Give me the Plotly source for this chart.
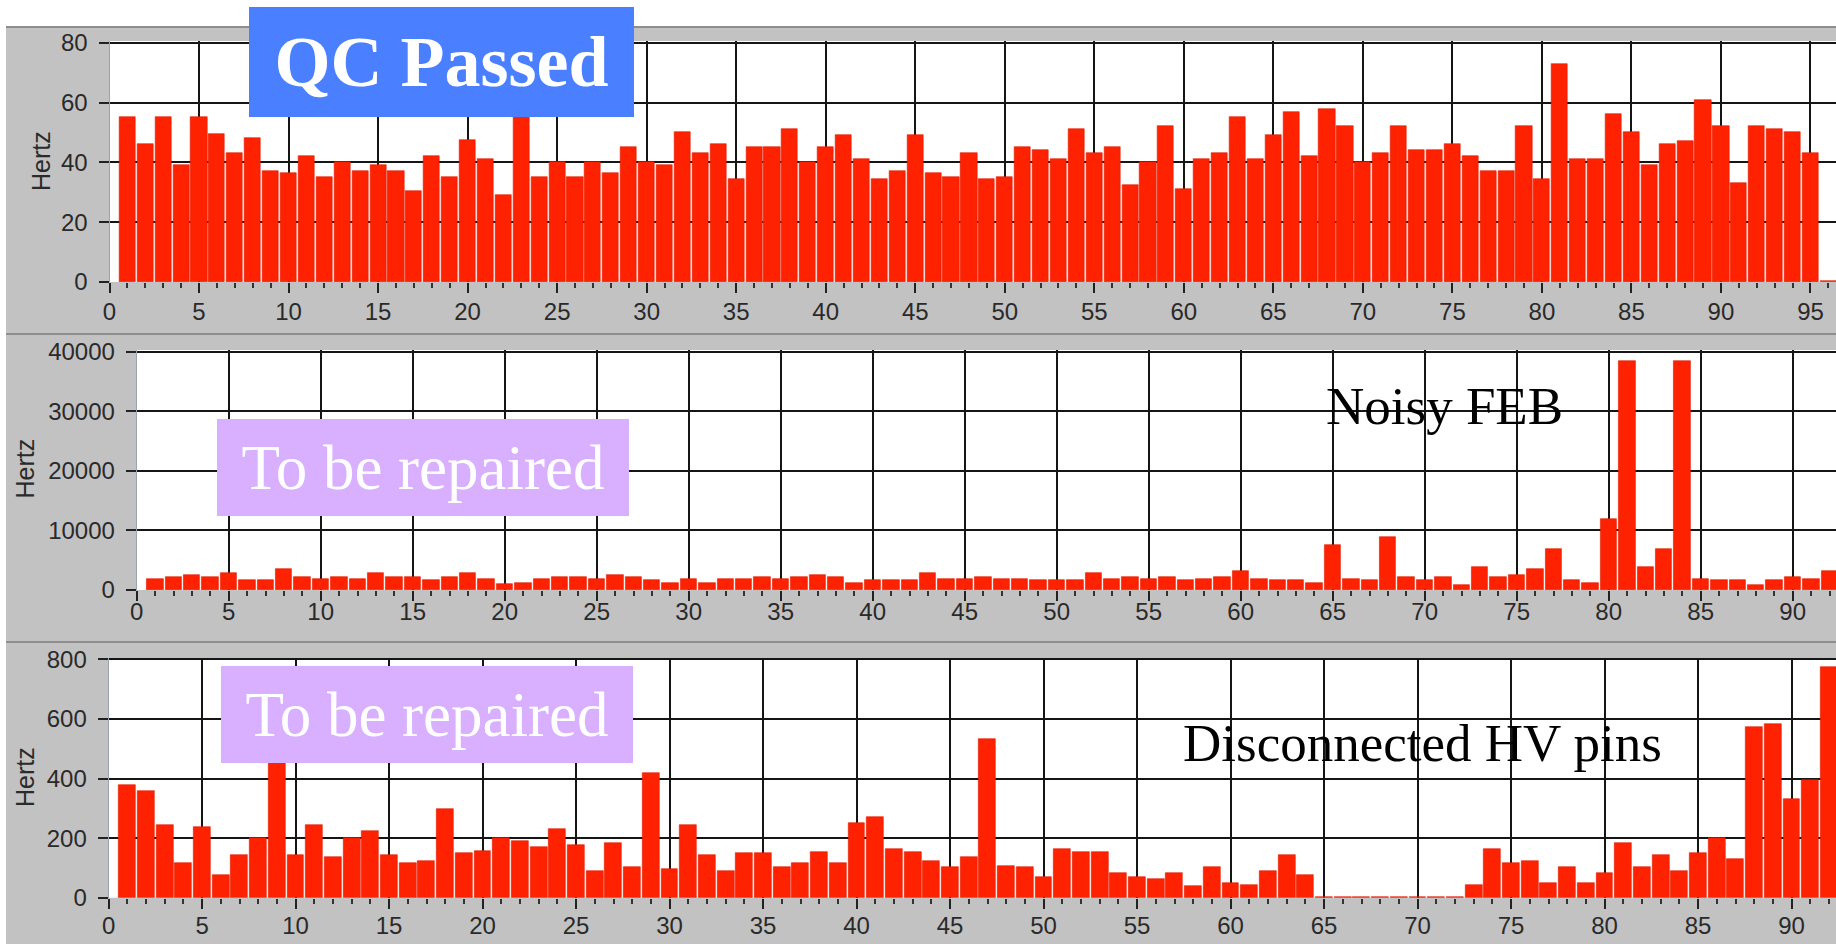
import plotly.graph_objects as go

# ---------------- data ----------------
channels_top = list(range(1, 97))
hertz_top = [55, 46, 55, 39, 55, 49.5, 43, 48, 37, 36.5,
             42, 35, 40, 37, 39, 37, 30.5, 42, 35, 47.5,
             41, 29, 55.5, 35, 40, 35, 40, 36.5, 45, 40,
             39, 50, 43, 46, 34.5, 45, 45, 51, 40, 45,
             49, 41, 34.5, 37, 49, 36.5, 35, 43, 34.5, 35,
             45, 44, 41, 51, 43, 45, 32.5, 40, 52, 31,
             41, 43, 55, 41, 49, 57, 42, 58, 52, 40,
             43, 52, 44, 44, 46, 42, 37, 37, 52, 34.5,
             73, 41, 41, 56, 50, 39, 46, 47, 61, 52,
             33, 52, 51, 50, 43, 0.5]

channels_mid = list(range(1, 93))
hertz_mid = [1900, 2200, 2500, 2200, 2900, 1600, 1600, 3600, 2200, 1900,
             2200, 1900, 2900, 2200, 2200, 1600, 2200, 2900, 1900, 950,
             1200, 1900, 2200, 2200, 1900, 2600, 2200, 1600, 1200, 1900,
             1200, 1900, 1900, 2200, 1900, 2200, 2600, 2200, 1200, 1600,
             1600, 1600, 2900, 1900, 1900, 2200, 1900, 1900, 1600, 1600,
             1600, 2900, 1900, 2200, 1900, 2200, 1600, 1900, 2200, 3200,
             1900, 1600, 1600, 1200, 7500, 1900, 1600, 8900, 2200, 1600,
             2200, 900, 3900, 2200, 2600, 3600, 6900, 1600, 1200, 12000,
             38400, 3900, 6900, 38400, 1900, 1600, 1600, 900, 1600, 2200,
             1900, 3200]

channels_bot = list(range(1, 93))
hertz_bot = [378, 358, 244, 115, 236, 76, 142, 201, 470, 142,
             244, 135, 201, 224, 142, 115, 123, 296, 149, 157,
             201, 190, 169, 229, 177, 89, 182, 102, 417, 95,
             243, 142, 89, 149, 149, 102, 115, 155, 115, 250,
             270, 162, 155, 122, 102, 135, 531, 108, 102, 68,
             162, 155, 155, 82, 68, 62, 82, 40, 102, 48,
             41, 88, 142, 75, 3, 3, 3, 3, 3, 3,
             3, 3, 41, 162, 115, 122, 48, 102, 48, 82,
             182, 102, 142, 88, 149, 201, 129, 572, 583, 330,
             395, 773]

ytick_top = [0, 20, 40, 60, 80]
ytick_mid = [0, 10000, 20000, 30000, 40000]
ytick_bot = [0, 200, 400, 600, 800]

# ---------------- layout geometry (pixels) ----------------
W, H = 1836, 944

def fx(px):
    return px / W

def fy(py):
    return 1 - py / H

panels = [
    dict(x0=109.5, ppu=17.905, top=41, bottom=282, ttop=42.7, tval=80, xstand=-2,
         gtop=26, gbot=333, ticks=ytick_top, x=channels_top, y=hertz_top, hertz=(41, 161)),
    dict(x0=136.7, ppu=18.4, top=350, bottom=590, ttop=351.7, tval=40000, xstand=-10,
         gtop=333, gbot=641, ticks=ytick_mid, x=channels_mid, y=hertz_mid, hertz=(24.5, 469)),
    dict(x0=108.6, ppu=18.7, top=658, bottom=897.7, ttop=659.3, tval=800, xstand=-4,
         gtop=641, gbot=944, ticks=ytick_bot, x=channels_bot, y=hertz_bot, hertz=(24.5, 777.5)),
]

BAR = "#FF2200"
GRID = "#151515"
TICKFONT = dict(family="Liberation Sans, Arial, sans-serif", size=24, color="#2a2a2a")

fig = go.Figure()
shapes = []
annotations = []
layout = dict(
    width=W, height=H, autosize=False,
    margin=dict(l=0, r=0, t=0, b=0, pad=0, autoexpand=False),
    paper_bgcolor="white", plot_bgcolor="rgba(0,0,0,0)",
    showlegend=False, bargap=0,
)

for i, p in enumerate(panels, start=1):
    xs = "x" if i == 1 else f"x{i}"
    ys = "y" if i == 1 else f"y{i}"
    xmax = (W - p["x0"]) / p["ppu"]
    ymax = p["tval"] * (p["bottom"] - p["top"]) / (p["bottom"] - p["ttop"])

    fig.add_trace(go.Bar(
        x=p["x"], y=p["y"], xaxis=xs, yaxis=ys, width=0.9,
        marker=dict(color=BAR, line=dict(color="#E01A00", width=0.6)),
        hoverinfo="x+y",
    ))

    shapes.append(dict(type="rect", xref="paper", yref="paper", layer="below",
                       x0=fx(6), x1=1, y0=fy(p["gbot"]), y1=fy(p["gtop"]),
                       fillcolor="#C2C2C2", line=dict(width=0)))
    shapes.append(dict(type="rect", xref="paper", yref="paper", layer="below",
                       x0=fx(6), x1=1, y0=fy(p["gtop"] + 2), y1=fy(p["gtop"]),
                       fillcolor="#8E8E8E", line=dict(width=0)))
    shapes.append(dict(type="rect", xref="paper", yref="paper", layer="below",
                       x0=fx(p["x0"]), x1=1, y0=fy(p["bottom"]), y1=fy(p["top"]),
                       fillcolor="white", line=dict(width=0)))

    xa = dict(
        domain=[fx(p["x0"]), 1], range=[0, xmax], anchor=ys, automargin=False,
        tickmode="linear", tick0=0, dtick=5,
        showgrid=True, gridcolor=GRID, gridwidth=1.6,
        ticks="outside", ticklen=10, tickwidth=2, tickcolor="#222",
        minor=dict(tickmode="linear", tick0=0, dtick=1, ticks="outside",
                   ticklen=5, tickwidth=1.6, tickcolor="#333", showgrid=False),
        tickfont=TICKFONT, ticklabelstandoff=p["xstand"],
        showline=False, zeroline=False, fixedrange=True,
    )
    ya = dict(
        domain=[fy(p["bottom"]), fy(p["top"])], range=[0, ymax], anchor=xs, automargin=False,
        tickmode="array", tickvals=p["ticks"], ticktext=[str(t) for t in p["ticks"]],
        showgrid=True, gridcolor=GRID, gridwidth=1.6,
        ticks="outside", ticklen=10, tickwidth=2, tickcolor="#222",
        tickfont=TICKFONT, ticklabelstandoff=6,
        showline=True, linecolor="#9AA4B0", linewidth=1, zeroline=False, fixedrange=True,
    )
    layout["xaxis" if i == 1 else f"xaxis{i}"] = xa
    layout["yaxis" if i == 1 else f"yaxis{i}"] = ya

    annotations.append(dict(
        text="Hertz", textangle=-90, xref="paper", yref="paper",
        x=fx(p["hertz"][0]), y=fy(p["hertz"][1]), xanchor="center", yanchor="middle",
        showarrow=False, font=dict(family="Liberation Sans, Arial, sans-serif", size=25, color="#2a2a2a"),
    ))

SERIF = "Liberation Serif, Times New Roman, serif"

def box_label(text, cx, cy, w, h, bg, size, bold=False):
    return dict(
        text=f"<b>{text}</b>" if bold else text,
        xref="paper", yref="paper", x=fx(cx), y=fy(cy),
        xanchor="center", yanchor="middle", showarrow=False,
        width=w, height=h, bgcolor=bg, borderpad=0, borderwidth=0,
        align="center", valign="middle",
        font=dict(family=SERIF, size=size, color="white"),
    )

annotations.append(box_label("QC Passed", 441.5, 62, 385, 110, "#4A80FF", 72, bold=True))
annotations.append(box_label("To be repaired", 423, 467.5, 412, 97, "#D8B0FF", 63))
annotations.append(box_label("To be repaired", 427, 714.5, 412, 97, "#D8B0FF", 63))

annotations.append(dict(
    text="Noisy FEB", xref="paper", yref="paper", x=fx(1444), y=fy(406),
    xanchor="center", yanchor="middle", showarrow=False,
    font=dict(family=SERIF, size=53, color="black"),
))
annotations.append(dict(
    text="Disconnected HV pins", xref="paper", yref="paper", x=fx(1422), y=fy(742.5),
    xanchor="center", yanchor="middle", showarrow=False,
    font=dict(family=SERIF, size=53, color="black"),
))

layout["shapes"] = shapes
layout["annotations"] = annotations
fig.update_layout(**layout)

fig.write_html(
    "out.html",
    config=dict(displayModeBar=False),
    post_script="document.body.style.margin='0';document.body.style.overflow='hidden';",
)
